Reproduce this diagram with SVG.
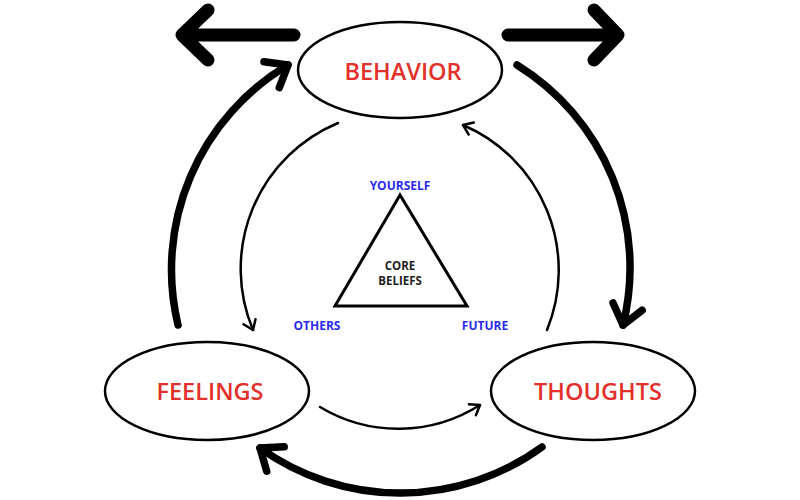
<svg xmlns="http://www.w3.org/2000/svg" width="800" height="500" viewBox="0 0 800 500">
<style>
.node ellipse{fill:#fff;stroke:#000;stroke-width:2.5}
.lbl{font-family:"Open Sans","Liberation Sans",sans-serif;font-size:23.5px;fill:#e2302a;text-anchor:middle;font-weight:600}
.sm{font-family:"Open Sans","Liberation Sans",sans-serif;font-size:12px;font-weight:bold;text-anchor:middle}
.blue{fill:#2a2af0}
.thick{fill:none;stroke:#000;stroke-width:7.5;stroke-linecap:round}
.thin{fill:none;stroke:#000;stroke-width:2.5;stroke-linecap:round}
.big{fill:none;stroke:#000;stroke-width:13;stroke-linecap:round;stroke-linejoin:round}
</style>
<defs>
<marker id="hThick" markerUnits="userSpaceOnUse" viewBox="-30 -25 40 50" markerWidth="40" markerHeight="50" refX="0" refY="0" orient="auto">
<path d="M-19,-15 L0,0 L-19,15" fill="none" stroke="#000" stroke-width="7.5" stroke-linecap="round" stroke-linejoin="round"/>
</marker>
<marker id="hThin" markerUnits="userSpaceOnUse" viewBox="-15 -12 20 24" markerWidth="20" markerHeight="24" refX="0" refY="0" orient="auto">
<path d="M-9,-6.5 L0,0 L-9,6.5" fill="none" stroke="#000" stroke-width="2.5" stroke-linecap="round" stroke-linejoin="round"/>
</marker>
</defs>
<rect width="800" height="500" fill="#fff"/>
<g id="connectors">
<path class="big" d="M294,35 L182,35 M208,10 L182,35 L208,60"/>
<path class="big" d="M508,35 L618,35 M594,10 L618,35 L594,60"/>
<path class="thick" d="M178,325 A238,238 0 0 1 288,65" marker-end="url(#hThick)"/>
<path class="thick" d="M517,65 A238,238 0 0 1 623,325" marker-end="url(#hThick)"/>
<path class="thick" d="M542,447 A241,241 0 0 1 260,448" marker-end="url(#hThick)"/>
<path class="thin" d="M338,123 A158,158 0 0 0 253,330" marker-end="url(#hThin)"/>
<path class="thin" d="M547,330 A158,158 0 0 0 463,125" marker-end="url(#hThin)"/>
<path class="thin" d="M320,407 A152,152 0 0 0 480,405" marker-end="url(#hThin)"/>
</g>
<g id="behavior" class="node">
<ellipse cx="400" cy="70" rx="102" ry="48"/>
<text class="lbl" x="403" y="80">BEHAVIOR</text>
</g>
<g id="feelings" class="node">
<ellipse cx="207" cy="391" rx="102" ry="49"/>
<text class="lbl" x="210" y="400">FEELINGS</text>
</g>
<g id="thoughts" class="node">
<ellipse cx="593" cy="391" rx="102" ry="49"/>
<text class="lbl" x="598" y="400">THOUGHTS</text>
</g>
<g id="core-beliefs">
<polygon points="400,195 335,306 467,306" fill="#fff" stroke="#000" stroke-width="3" stroke-linejoin="miter"/>
<text class="sm" x="400" y="270" fill="#222" style="font-size:11.5px">CORE</text>
<text class="sm" x="400" y="285" fill="#222" style="font-size:11.5px">BELIEFS</text>
<text class="sm blue" x="400" y="190">YOURSELF</text>
<text class="sm blue" x="317" y="330">OTHERS</text>
<text class="sm blue" x="485" y="330">FUTURE</text>
</g>
</svg>
